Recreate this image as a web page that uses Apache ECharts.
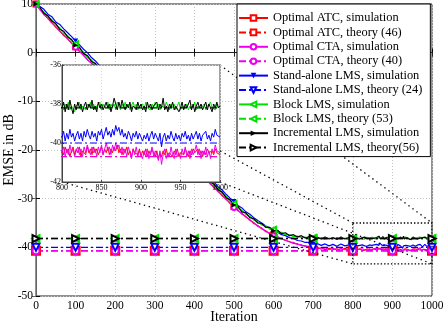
<!DOCTYPE html>
<html>
<head>
<meta charset="utf-8">
<script src="https://cdn.jsdelivr.net/npm/echarts@6/dist/echarts.min.js"></script>
<style>
html, body { margin: 0; padding: 0; background: #fff; }
#chart { width: 443px; height: 323px; }
</style>
</head>
<body>
<div id="chart"></div>
<script>
var names = [
  "Optimal ATC, simulation",
  "Optimal ATC, theory (46)",
  "Optimal CTA, simulation",
  "Optimal CTA, theory (40)",
  "Stand-alone LMS, simulation",
  "Stand-alone LMS, theory (24)",
  "Block LMS, simulation",
  "Block LMS, theory (53)",
  "Incremental LMS, simulation",
  "Incremental LMS, theory(56)"
];

// iterations: every 10 up to 790, every 2 from 800 (zoomed part)
var coarseIter = [];
for (var i = 0; i < 80; i++) coarseIter.push(i * 10);
var fineIter = [];
for (var j = 0; j <= 100; j++) fineIter.push(800 + j * 2);

var theoryIter = [0, 100, 200, 300, 400, 500, 600, 700, 800, 900, 1000];
var atcTheory = [-40.7, -40.7, -40.7, -40.7, -40.7, -40.7, -40.7, -40.7, -40.7, -40.7, -40.7];
var ctaTheory = [-40.7, -40.7, -40.7, -40.7, -40.7, -40.7, -40.7, -40.7, -40.7, -40.7, -40.7];
var lmsTheory = [-40.0, -40.0, -40.0, -40.0, -40.0, -40.0, -40.0, -40.0, -40.0, -40.0, -40.0];
var blockTheory = [-38.2, -38.2, -38.2, -38.2, -38.2, -38.2, -38.2, -38.2, -38.2, -38.2, -38.2];
var incTheory = [-38.2, -38.2, -38.2, -38.2, -38.2, -38.2, -38.2, -38.2, -38.2, -38.2, -38.2];

var atcSim = [
  10.0, 9.0, 7.8, 7.1, 6.2, 5.2, 4.5, 3.5, 2.9, 1.9,
  1.2, 0.2, -0.5, -1.5, -2.1, -3.1, -3.8, -4.8, -5.4, -6.4,
  -7.1, -8.1, -8.8, -9.7, -10.5, -11.4, -12.0, -13.0, -13.7, -14.7,
  -15.3, -16.3, -17.0, -18.0, -18.6, -19.6, -20.3, -21.2, -21.9, -22.9,
  -23.6, -24.6, -25.2, -26.2, -26.8, -27.8, -28.4, -29.4, -30.0, -31.0,
  -31.6, -32.5, -33.0, -33.8, -34.3, -35.1, -35.5, -36.2, -36.6, -37.2,
  -37.4, -38.0, -38.2, -38.6, -38.8, -39.2, -39.3, -39.6, -39.7, -40.0,
  -39.9, -40.3, -40.1, -40.5, -40.2, -40.4, -40.3, -40.6, -40.2, -40.5
];
var atcSimZoom = [
  -40.4, -40.6, -40.2, -40.5, -40.3, -40.7, -40.4, -40.2, -40.6, -40.3,
  -40.5, -40.2, -40.7, -40.4, -40.3, -40.6, -40.2, -40.5, -40.3, -40.6,
  -40.2, -40.5, -40.3, -40.6, -40.4, -40.2, -40.6, -40.3, -40.5, -40.2,
  -40.6, -40.3, -40.5, -40.2, -40.4, -40.1, -40.5, -40.3, -40.6, -40.3,
  -40.5, -40.2, -40.6, -40.4, -40.7, -40.3, -40.5, -40.4, -40.6, -40.3,
  -40.7, -40.4, -40.6, -40.3, -40.7, -40.4, -40.6, -40.3, -40.5, -40.7,
  -40.4, -40.8, -40.5, -40.7, -40.4, -40.6, -40.3, -40.7, -40.5, -40.4,
  -40.7, -40.4, -40.6, -40.3, -40.7, -40.5, -40.4, -40.6, -40.3, -40.5,
  -40.7, -40.4, -40.6, -40.3, -40.5, -40.6, -40.3, -40.6, -40.4, -40.7,
  -40.4, -40.6, -40.3, -40.5, -40.6, -40.4, -40.6, -40.3, -40.5, -40.4,
  -40.6
];

var ctaSim = [
  10.0, 8.8, 7.9, 7.0, 6.1, 5.4, 4.4, 3.7, 2.8, 2.0,
  1.1, 0.3, -0.6, -1.4, -2.2, -3.0, -3.9, -4.6, -5.6, -6.3,
  -7.2, -7.9, -8.9, -9.6, -10.4, -11.3, -12.1, -12.9, -13.8, -14.5,
  -15.4, -16.2, -17.1, -17.8, -18.8, -19.4, -20.4, -21.1, -22.0, -22.8,
  -23.7, -24.4, -25.4, -26.0, -27.0, -27.6, -28.6, -29.2, -30.2, -30.8,
  -31.8, -32.3, -33.2, -33.6, -34.5, -34.9, -35.7, -36.0, -36.8, -37.0,
  -37.6, -37.8, -38.3, -38.5, -38.9, -39.0, -39.4, -39.5, -39.8, -39.8,
  -40.1, -40.0, -40.4, -40.1, -40.5, -40.2, -40.6, -40.2, -40.5, -40.3
];
var ctaSimZoom = [
  -40.5, -40.2, -40.7, -40.3, -40.6, -40.1, -40.5, -40.3, -40.7, -40.4,
  -40.2, -40.6, -40.3, -40.7, -40.2, -40.5, -40.1, -40.4, -40.6, -40.2,
  -40.5, -40.3, -40.7, -40.2, -40.5, -40.1, -40.6, -40.3, -40.0, -40.4,
  -40.2, -40.6, -40.1, -40.4, -40.0, -40.3, -40.1, -40.5, -40.2, -40.6,
  -40.3, -40.7, -40.2, -40.5, -40.8, -40.3, -40.6, -40.2, -40.7, -40.4,
  -40.5, -40.8, -40.4, -40.7, -40.3, -40.8, -40.5, -40.2, -40.7, -40.4,
  -40.6, -40.9, -40.4, -41.1, -40.6, -40.3, -40.8, -40.5, -40.7, -40.2,
  -40.6, -40.8, -40.3, -40.7, -40.5, -40.8, -40.3, -40.6, -40.2, -40.7,
  -40.4, -40.8, -40.3, -40.6, -40.4, -40.1, -40.6, -40.3, -40.8, -40.4,
  -40.6, -40.2, -40.7, -40.4, -40.8, -40.3, -40.5, -40.1, -40.4, -40.3,
  -40.5
];

var lmsSim = [
  10.0, 9.5, 8.9, 7.9, 7.4, 6.3, 5.8, 4.9, 4.1, 3.3,
  2.4, 1.6, 0.7, 0.0, -1.0, -1.7, -2.6, -3.5, -4.2, -5.2,
  -5.9, -6.9, -7.6, -8.5, -9.3, -10.1, -11.0, -11.8, -12.6, -13.6,
  -14.3, -15.1, -16.1, -16.8, -17.6, -18.6, -19.3, -20.1, -21.1, -21.7,
  -22.6, -23.5, -24.2, -25.1, -25.9, -26.6, -27.6, -28.2, -29.1, -29.9,
  -30.6, -31.4, -31.9, -32.7, -33.2, -33.9, -34.5, -35.0, -35.6, -36.0,
  -36.5, -36.9, -37.4, -37.6, -38.0, -38.2, -38.6, -38.7, -39.0, -39.0,
  -39.3, -39.2, -39.6, -39.3, -39.7, -39.4, -39.8, -39.3, -39.7, -39.5
];
var lmsSimZoom = [
  -39.7, -39.4, -39.9, -39.5, -39.8, -39.3, -39.7, -39.5, -39.9, -39.6,
  -39.4, -39.8, -39.5, -39.9, -39.4, -39.7, -39.3, -39.6, -39.8, -39.4,
  -39.7, -39.5, -39.9, -39.4, -39.6, -39.3, -39.8, -39.5, -39.2, -39.6,
  -39.4, -39.7, -39.3, -39.6, -39.1, -39.4, -39.2, -39.6, -39.3, -39.7,
  -39.5, -39.8, -39.4, -39.6, -39.9, -39.5, -39.7, -39.4, -39.8, -39.5,
  -39.7, -39.9, -39.6, -39.8, -39.5, -39.9, -39.6, -39.4, -39.8, -39.5,
  -39.7, -39.9, -39.5, -40.2, -39.7, -39.5, -39.9, -39.6, -39.8, -39.4,
  -39.7, -39.9, -39.5, -39.8, -39.6, -39.9, -39.5, -39.7, -39.4, -39.8,
  -39.6, -39.9, -39.5, -39.8, -39.6, -39.4, -39.8, -39.5, -39.9, -39.6,
  -39.7, -39.4, -39.8, -39.6, -39.9, -39.5, -39.7, -39.3, -39.6, -39.5,
  -39.7
];

var blockSim = [
  10.0, 9.0, 8.4, 7.3, 6.8, 5.7, 5.1, 4.0, 3.5, 2.4,
  1.8, 0.7, 0.1, -1.0, -1.5, -2.6, -3.2, -4.3, -4.8, -5.9,
  -6.5, -7.6, -8.1, -9.2, -9.8, -10.9, -11.4, -12.5, -13.1, -14.2,
  -14.7, -15.8, -16.4, -17.5, -18.0, -19.1, -19.7, -20.8, -21.3, -22.4,
  -23.0, -24.1, -24.6, -25.7, -26.3, -27.3, -27.9, -28.9, -29.5, -30.5,
  -31.0, -31.9, -32.4, -33.2, -33.6, -34.4, -34.7, -35.4, -35.6, -36.2,
  -36.3, -36.9, -36.9, -37.4, -37.4, -37.8, -37.7, -38.0, -37.9, -38.2,
  -38.0, -38.3, -38.0, -38.4, -38.1, -38.3, -38.0, -38.4, -38.1, -38.3
];
var blockSimZoom = [
  -38.1, -38.3, -38.0, -38.2, -37.9, -38.3, -38.1, -38.0, -38.4, -38.1,
  -38.2, -37.9, -38.3, -38.1, -38.0, -38.3, -38.0, -38.2, -37.9, -38.2,
  -38.0, -38.3, -38.1, -38.2, -37.9, -38.3, -38.0, -38.2, -38.1, -37.9,
  -38.3, -38.0, -38.2, -38.0, -38.3, -37.9, -38.1, -38.3, -38.0, -38.2,
  -37.9, -38.2, -38.0, -38.3, -38.1, -37.9, -38.2, -38.0, -38.3, -38.1,
  -38.2, -38.0, -38.3, -37.9, -38.2, -38.1, -38.3, -38.0, -38.2, -37.9,
  -38.2, -38.0, -38.3, -38.1, -38.0, -38.2, -37.9, -38.1, -38.3, -38.0,
  -38.2, -38.0, -38.3, -38.1, -37.9, -38.3, -38.1, -38.0, -38.2, -38.0,
  -38.3, -38.1, -38.0, -38.2, -37.9, -38.3, -38.1, -38.0, -38.2, -38.1,
  -38.0, -38.3, -38.1, -38.2, -37.9, -38.2, -38.1, -38.3, -38.0, -38.2,
  -38.1
];

var incSim = [
  10.0, 9.3, 8.1, 7.6, 6.5, 6.0, 4.8, 4.4, 3.2, 2.7,
  1.5, 1.1, -0.2, -0.6, -1.8, -2.2, -3.5, -3.9, -5.1, -5.6,
  -6.8, -7.2, -8.5, -8.9, -10.1, -10.5, -11.8, -12.2, -13.4, -13.8,
  -15.1, -15.5, -16.7, -17.2, -18.4, -18.8, -20.0, -20.5, -21.7, -22.1,
  -23.3, -23.8, -25.0, -25.4, -26.6, -27.0, -28.2, -28.6, -29.8, -30.2,
  -31.3, -31.6, -32.7, -32.9, -33.9, -34.1, -35.0, -35.1, -35.9, -35.9,
  -36.6, -36.5, -37.2, -37.0, -37.6, -37.4, -37.9, -37.6, -38.1, -37.8,
  -38.2, -37.9, -38.3, -37.9, -38.3, -38.0, -38.4, -37.9, -38.3, -38.0
];
var incSimZoom = [
  -38.2, -37.9, -38.4, -38.0, -38.3, -37.8, -38.2, -38.5, -38.0, -38.3,
  -37.9, -38.2, -38.0, -38.4, -38.1, -37.9, -38.3, -38.0, -38.2, -37.8,
  -38.3, -38.1, -38.4, -37.9, -38.2, -38.0, -38.3, -38.1, -37.9, -38.2,
  -38.0, -38.4, -38.1, -37.7, -38.0, -38.3, -37.9, -38.2, -37.8, -38.1,
  -38.3, -38.0, -38.2, -37.9, -38.4, -38.1, -38.0, -38.3, -37.9, -38.2,
  -38.0, -38.3, -38.1, -38.4, -37.9, -38.2, -38.0, -38.3, -38.1, -38.2,
  -37.9, -38.3, -38.0, -38.2, -37.7, -38.3, -38.1, -38.4, -38.0, -38.2,
  -37.9, -38.3, -38.1, -38.0, -38.4, -38.2, -37.9, -38.3, -38.0, -38.2,
  -38.1, -37.8, -38.3, -38.0, -38.4, -38.1, -37.9, -38.2, -38.0, -38.3,
  -38.1, -37.9, -38.3, -38.0, -38.2, -38.4, -38.0, -38.2, -37.9, -38.2,
  -38.1
];

// zoomed box in main axes, and inset axes range
var zoomX = [800, 1000];
var zoomY = [-35, -43.4];
var insetX = [800, 1000];
var insetY = [-36, -42];

var FONT = "Liberation Serif";

function pairs(xs, ys) {
  var out = [];
  for (var k = 0; k < xs.length; k++) out.push([xs[k], ys[k]]);
  return out;
}
function plain(v) { return String(v); }
var simIter = coarseIter.concat(fineIter);

var styles = [
  { color: "#ff0000", sim: atcSim.concat(atcSimZoom), th: atcTheory, simSym: "emptyRect", simRot: 0, thSym: "emptyRect", thRot: 0, thSize: 8 },
  { color: "#ee00ee", sim: ctaSim.concat(ctaSimZoom), th: ctaTheory, simSym: "emptyCircle", simRot: 0, thSym: "emptyCircle", thRot: 0, thSize: 7 },
  { color: "#0000ff", sim: lmsSim.concat(lmsSimZoom), th: lmsTheory, simSym: "triangle", simRot: 180, thSym: "emptyTriangle", thRot: 180, thSize: 7 },
  { color: "#00e000", sim: blockSim.concat(blockSimZoom), th: blockTheory, simSym: "emptyTriangle", simRot: 90, thSym: "emptyTriangle", thRot: 90, thSize: 7 },
  { color: "#000000", sim: incSim.concat(incSimZoom), th: incTheory, simSym: "triangle", simRot: -90, thSym: "emptyTriangle", thRot: -90, thSize: 7 }
];

var dashDot = [7, 3, 2, 3];
var mainSeries = [];
var insetSeries = [];
styles.forEach(function (s, k) {
  mainSeries.push({
    name: names[k * 2], type: "line", xAxisIndex: 0, yAxisIndex: 0,
    data: pairs(simIter, s.sim), symbol: s.simSym, symbolRotate: s.simRot,
    symbolSize: function (v) { return v[0] % 100 === 0 ? 5 : 0; },
    lineStyle: { color: s.color, width: 1.2 }, itemStyle: { color: s.color },
    z: 2
  });
  mainSeries.push({
    name: names[k * 2 + 1], type: "line", xAxisIndex: 0, yAxisIndex: 0,
    data: pairs(theoryIter, s.th), symbol: s.thSym, symbolRotate: s.thRot,
    symbolSize: s.thSize,
    lineStyle: { color: s.color, width: 1.4, type: dashDot },
    itemStyle: { color: s.color, borderWidth: 1 },
    z: 3
  });
  insetSeries.push({
    name: names[k * 2], type: "line", xAxisIndex: 1, yAxisIndex: 1,
    data: pairs(simIter, s.sim), symbol: "none",
    lineStyle: { color: s.color, width: 1 }, z: 12
  });
  insetSeries.push({
    name: names[k * 2 + 1], type: "line", xAxisIndex: 1, yAxisIndex: 1,
    data: pairs(theoryIter, s.th), symbol: "none",
    lineStyle: { color: s.color, width: 1, type: dashDot }, z: 12
  });
});

var chart = echarts.init(document.getElementById("chart"));
chart.setOption({
  animation: false,
  backgroundColor: "#fff",
  textStyle: { fontFamily: FONT },
  grid: [
    { left: 36, right: 11, top: 4, bottom: 27, outerBoundsMode: "none", containLabel: false,
      show: true, borderColor: "#222", borderWidth: 1 },
    { left: 62, top: 65, width: 158, height: 117, outerBoundsMode: "none", containLabel: false,
      show: true, backgroundColor: "#fff", borderColor: "#444", borderWidth: 1, z: 10 }
  ],
  legend: {
    data: names, orient: "vertical", left: 237, top: 4,
    backgroundColor: "#fff", borderColor: "#000", borderWidth: 1,
    padding: [8, 8, 3, 1], itemWidth: 29, itemHeight: 7, itemGap: 2.4,
    textStyle: { fontFamily: FONT, fontSize: 12.4, color: "#000" },
    z: 20
  },
  xAxis: [
    {
      type: "value", gridIndex: 0, min: 0, max: 1000, interval: 100,
      name: "Iteration", nameLocation: "middle", nameGap: 14, nameMoveOverlap: false,
      nameTextStyle: { fontFamily: FONT, fontSize: 14, color: "#000" },
      axisLine: { lineStyle: { color: "#000" } },
      axisTick: { inside: true, length: 4, lineStyle: { color: "#000" } },
      axisLabel: { fontFamily: FONT, fontSize: 11.5, color: "#000", margin: 4, formatter: plain },
      splitLine: { show: true, lineStyle: { color: "#c4c4c4", type: [1, 2] } }
    },
    {
      type: "value", gridIndex: 1, min: insetX[0], max: insetX[1], interval: 50,
      axisLine: { lineStyle: { color: "#444" } },
      axisTick: { inside: true, length: 2, lineStyle: { color: "#444" } },
      axisLabel: { fontFamily: FONT, fontSize: 8, color: "#000", margin: 2, formatter: plain },
      splitLine: { show: true, lineStyle: { color: "#d8d8d8", type: [1, 2] } },
      z: 11
    },
    {
      type: "value", gridIndex: 0, position: "top", min: 0, max: 1000, interval: 100,
      axisLine: { lineStyle: { color: "#222" } },
      axisTick: { inside: true, length: 4, lineStyle: { color: "#222" } },
      axisLabel: { show: false }, splitLine: { show: false }
    }
  ],
  yAxis: [
    {
      type: "value", gridIndex: 0, min: -50, max: 10, interval: 10,
      name: "EMSE in dB", nameLocation: "middle", nameGap: 20, nameMoveOverlap: false,
      nameTextStyle: { fontFamily: FONT, fontSize: 14, color: "#000" },
      axisLine: { show: true, lineStyle: { color: "#000" } },
      axisTick: { show: true, inside: true, length: 4, lineStyle: { color: "#000" } },
      axisLabel: { fontFamily: FONT, fontSize: 11.5, color: "#000", margin: 3, formatter: plain },
      splitLine: { show: true, lineStyle: { color: "#c4c4c4", type: [1, 2] } }
    },
    {
      type: "value", gridIndex: 1, min: insetY[1], max: insetY[0], interval: 2,
      axisLine: { show: true, lineStyle: { color: "#444" } },
      axisTick: { show: true, inside: true, length: 2, lineStyle: { color: "#444" } },
      axisLabel: { fontFamily: FONT, fontSize: 8, color: "#000", margin: 1, formatter: plain },
      splitLine: { show: true, lineStyle: { color: "#d8d8d8", type: [1, 2] } },
      z: 11
    },
    {
      type: "value", gridIndex: 0, position: "right", min: -50, max: 10, interval: 10,
      axisLine: { show: true, lineStyle: { color: "#666" } },
      axisTick: { show: true, inside: true, length: 4, lineStyle: { color: "#666" } },
      axisLabel: { show: false }, splitLine: { show: false }
    }
  ],
  series: mainSeries.concat(insetSeries)
});

// zoom box and connector lines (dotted), placed through the axes
function toPx(idx, pt) {
  return chart.convertToPixel({ xAxisIndex: idx, yAxisIndex: idx }, pt);
}
var r0 = toPx(0, [zoomX[0], zoomY[0]]);
var r1 = toPx(0, [zoomX[1], zoomY[1]]);
var dots = { stroke: "#000", lineWidth: 1.3, lineDash: [1.4, 3.6], fill: null };
var elems = [{
  type: "rect", z: 5, silent: true,
  shape: { x: r0[0], y: r0[1], width: r1[0] - r0[0], height: r1[1] - r0[1] },
  style: { stroke: "#000", lineWidth: 1.3, lineDash: [1.4, 2], fill: null }
}];
[[0, 0], [1, 0], [0, 1], [1, 1]].forEach(function (c) {
  var a = toPx(1, [insetX[c[0]], insetY[c[1]]]);
  var b = toPx(0, [zoomX[c[0]], zoomY[c[1]]]);
  elems.push({
    type: "line", z: 5, silent: true,
    shape: { x1: a[0], y1: a[1], x2: b[0], y2: b[1] },
    style: dots
  });
});
chart.setOption({ graphic: elems });
</script>
</body>
</html>
